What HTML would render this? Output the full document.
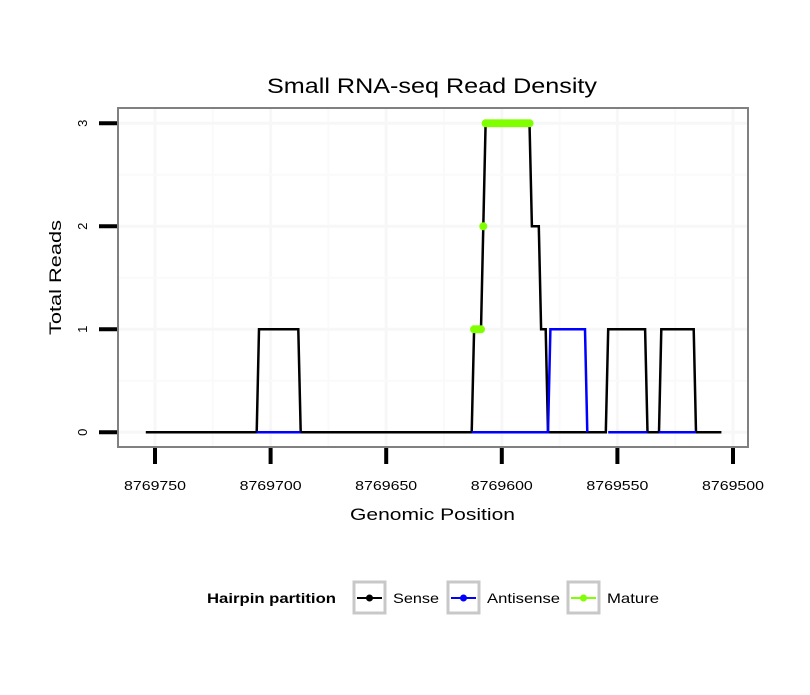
<!DOCTYPE html>
<html><head><meta charset="utf-8"><style>
body{margin:0;background:#fff;font-family:"Liberation Sans",sans-serif;}
svg text{font-family:"Liberation Sans",sans-serif;}
</style></head><body>
<svg id="chart" width="810" height="690" viewBox="0 0 810 690" xmlns="http://www.w3.org/2000/svg">
<rect width="810" height="690" fill="#fff"/>
<text x="267" y="93" font-size="21" textLength="330" lengthAdjust="spacingAndGlyphs" fill="#000">Small RNA-seq Read Density</text>
<g id="grid"></g>
<g id="series"></g>
<rect x="118" y="108" width="630" height="339" fill="none" stroke="#808080" stroke-width="2"/>
<g id="axes"></g>
<text x="350" y="520" font-size="17" textLength="165" lengthAdjust="spacingAndGlyphs">Genomic Position</text>
<text transform="translate(61,335) rotate(-90)" font-size="17" textLength="115" lengthAdjust="spacingAndGlyphs">Total Reads</text>
<g>
<text x="207" y="603" font-size="14" font-weight="bold" textLength="129" lengthAdjust="spacingAndGlyphs">Hairpin partition</text>
<g>
<rect x="354" y="582" width="31" height="31" fill="#fff" stroke="#c8c8c8" stroke-width="3"/>
<line x1="357" y1="598" x2="382" y2="598" stroke="#000" stroke-width="2"/><circle cx="369.5" cy="598" r="3.5" fill="#000"/>
<text x="393" y="603" font-size="14" textLength="46" lengthAdjust="spacingAndGlyphs">Sense</text></g>
<g>
<rect x="448" y="582" width="31" height="31" fill="#fff" stroke="#c8c8c8" stroke-width="3"/>
<line x1="451" y1="598" x2="476" y2="598" stroke="#0000ff" stroke-width="2"/><circle cx="463.5" cy="598" r="3.5" fill="#0000ff"/>
<text x="487" y="603" font-size="14" textLength="73" lengthAdjust="spacingAndGlyphs">Antisense</text></g>
<g>
<rect x="568" y="582" width="31" height="31" fill="#fff" stroke="#c8c8c8" stroke-width="3"/>
<line x1="571" y1="598" x2="596" y2="598" stroke="#7fff00" stroke-width="2"/><circle cx="583.5" cy="598" r="3.5" fill="#7fff00"/>
<text x="607" y="603" font-size="14" textLength="52" lengthAdjust="spacingAndGlyphs">Mature</text></g>
</g>
</svg>
<script>
const xTicks = [8769750, 8769700, 8769650, 8769600, 8769550, 8769500];
const yTicks = [0, 1, 2, 3];
const sensePos = [8769754,8769706,8769705,8769688,8769687,8769613,8769612,8769609,8769608,8769607,8769588,8769587,8769584,8769583,8769581,8769580,8769555,8769554,8769538,8769537,8769532,8769531,8769517,8769516,8769505];
const senseVal = [0,0,1,1,0,0,1,1,2,3,3,2,2,1,1,0,0,1,1,0,0,1,1,0,0];
const antiPos = [8769706,8769687,null,8769613,8769580,8769579,8769564,8769563,null,8769554,8769537,null,8769532,8769516];
const antiVal = [0,0,null,0,0,1,1,0,null,0,0,null,0,0];
const maturePos = [8769612,8769611,8769610,8769609,8769608,8769607,8769606,8769605,8769604,8769603,8769602,8769601,8769600,8769599,8769598,8769597,8769596,8769595,8769594,8769593,8769592,8769591,8769590,8769589,8769588];
const matureVal = [1,1,1,1,2,3,3,3,3,3,3,3,3,3,3,3,3,3,3,3,3,3,3,3,3];

const NS='http://www.w3.org/2000/svg';
function X(p){return 155 + (8769750 - p) * 2.312;}
function Y(v){return 432.3 - v * 103;}
function mk(tag, attrs, parent){const e=document.createElementNS(NS,tag);for(const k in attrs)e.setAttribute(k,attrs[k]);parent.appendChild(e);return e;}
const grid=document.getElementById('grid'), axes=document.getElementById('axes'), series=document.getElementById('series');
for(let i=0;i<xTicks.length;i++){
  const gx=mk('line',{x1:X(xTicks[i]),x2:X(xTicks[i]),y1:109,y2:446,stroke:'#f7f7f7','stroke-width':3},grid);
  
  
  if(i<xTicks.length-1){const m=(xTicks[i]+xTicks[i+1])/2;
    const gm=mk('line',{x1:X(m),x2:X(m),y1:109,y2:446,stroke:'#fafafa','stroke-width':2},grid);
    
    }
}
for(let i=0;i<yTicks.length;i++){
  const gy=mk('line',{x1:119,x2:747,y1:Y(yTicks[i]),y2:Y(yTicks[i]),stroke:'#f7f7f7','stroke-width':3},grid);
  
  
  if(i<yTicks.length-1){const m=(yTicks[i]+yTicks[i+1])/2;
    const gm=mk('line',{x1:119,x2:747,y1:Y(m),y2:Y(m),stroke:'#fafafa','stroke-width':2},grid);
    
    }
}
xTicks.forEach(t=>{
  const tk=mk('line',{x1:X(t),x2:X(t),y1:448,y2:464,stroke:'#000','stroke-width':4},axes);
  
  
  const lb=mk('text',{x:X(t)-31,y:490,'font-size':13,textLength:62,lengthAdjust:'spacingAndGlyphs'},axes);
  lb.textContent=t;
  
  
});
yTicks.forEach(t=>{
  const tk=mk('line',{x1:99,x2:117,y1:Y(t),y2:Y(t),stroke:'#000','stroke-width':4},axes);
  
  
  const lb=mk('text',{transform:'translate('+87+','+Y(t)+') rotate(-90)','font-size':13,'text-anchor':'middle'},axes);
  lb.textContent=t;
  
  
});
function pathFrom(pos, val){let d='',pen=false;for(let i=0;i<pos.length;i++){if(pos[i]===null){pen=false;continue;}d+=(pen?'L':'M')+X(pos[i]).toFixed(1)+' '+Y(val[i]).toFixed(1)+' ';pen=true;}return d;}
const sp=mk('path',{d:pathFrom(sensePos,senseVal),fill:'none',stroke:'#000','stroke-width':2.5},series);


const ap=mk('path',{d:pathFrom(antiPos,antiVal),fill:'none',stroke:'#0000ff','stroke-width':2.5},series);


for(let i=0;i<maturePos.length;i++){
  const c=mk('circle',{cx:X(maturePos[i]),cy:Y(matureVal[i]),r:4,fill:'#7fff00'},series);
  
  
}
</script>
</body></html>
